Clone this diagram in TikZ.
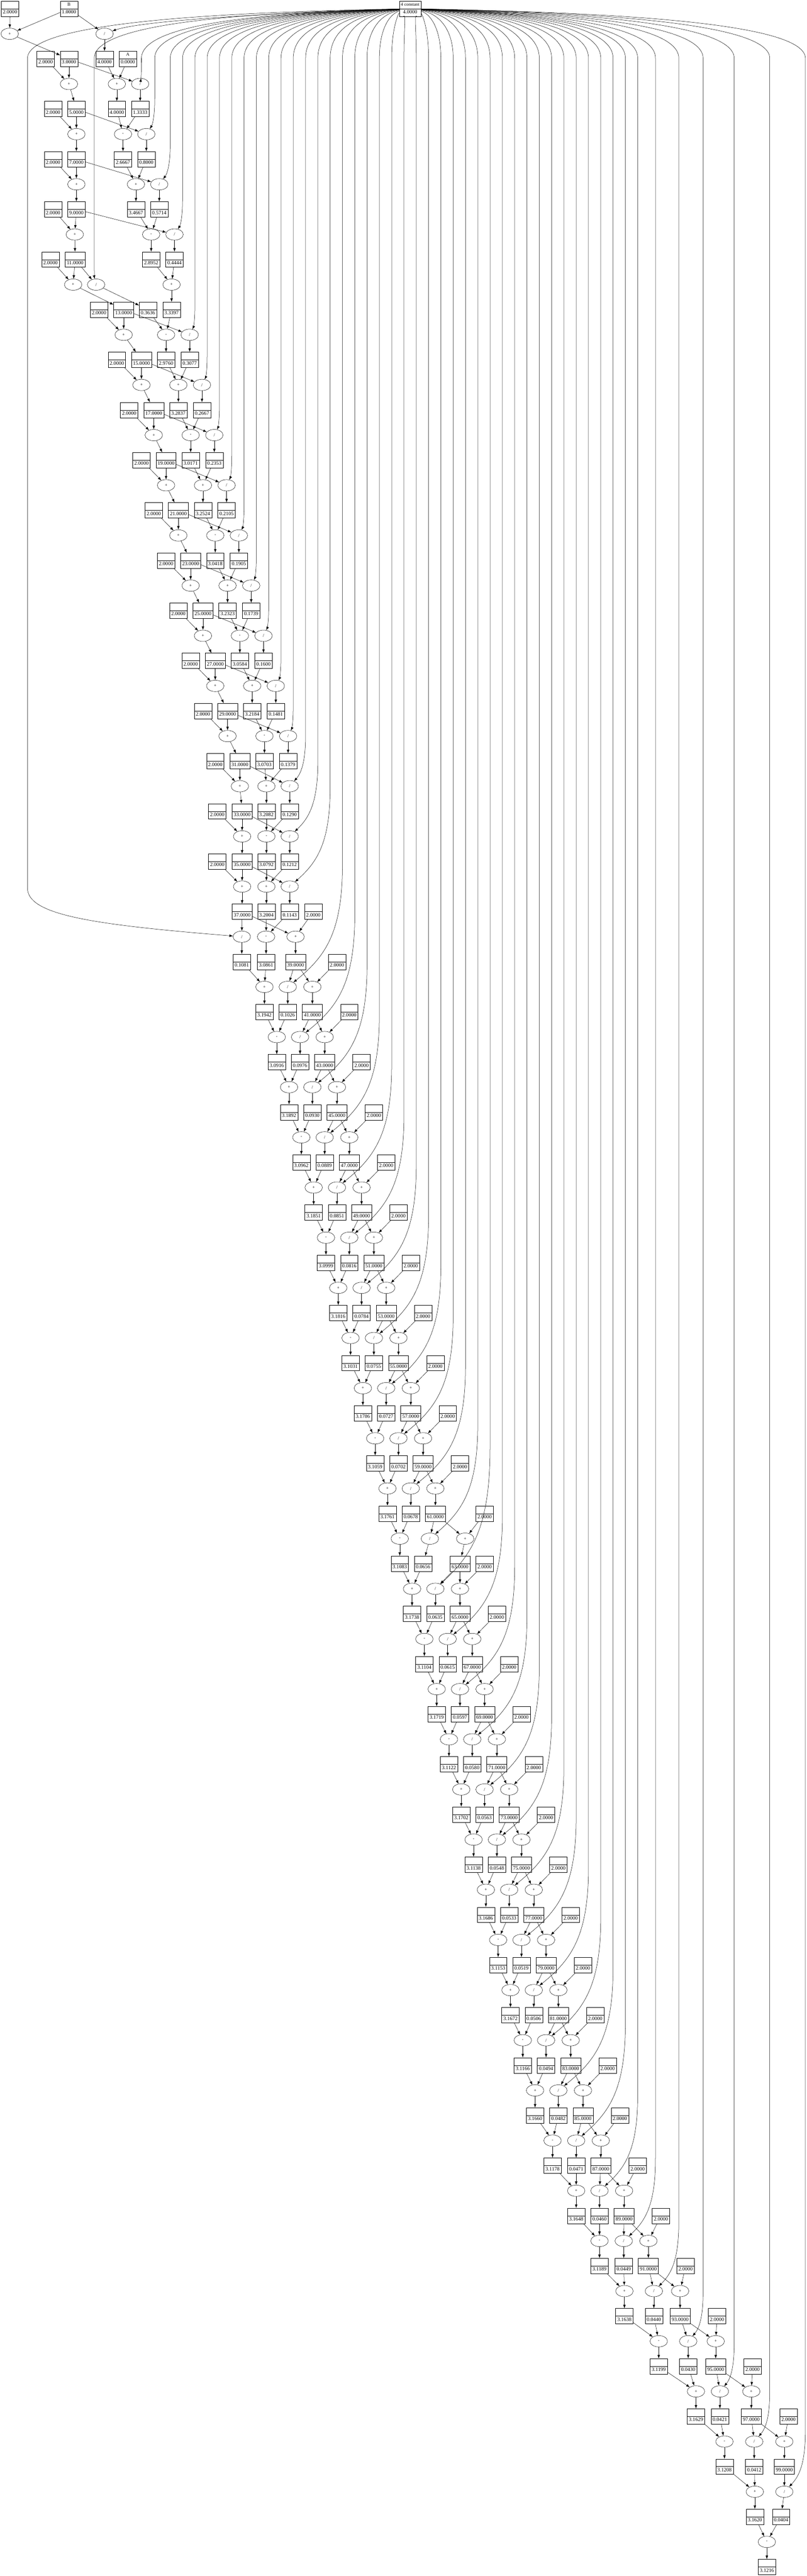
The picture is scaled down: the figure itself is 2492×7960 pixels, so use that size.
\documentclass[tikz,border=0pt]{standalone}
\usepackage{fontspec}
\setmainfont{Liberation Serif}
\usetikzlibrary{arrows.meta}
\usetikzlibrary{shapes.multipart}
\usetikzlibrary{shapes.geometric}
\tikzset{>={Latex[length=11pt,width=8pt]}}

% a value printed with four decimals
\newcommand{\fourdp}[1]{%
  \edef\fdN{\fpeval{round((#1)*10000)}}%
  \edef\fdI{\fpeval{trunc(\fdN/10000)}}%
  \edef\fdF{\fpeval{\fdN-10000*\fdI}}%
  \fdI.\ifnum\fdF<1000 0\fi\ifnum\fdF<100 0\fi\ifnum\fdF<10 0\fi\fdF}
\newcommand{\val}[1]{{\fontsize{16}{17}\selectfont #1}}

\tikzset{
  rec/.style={draw, rectangle split, rectangle split parts=2, inner xsep=5pt, inner ysep=3pt},
  op/.style={draw, ellipse, minimum width=54pt, minimum height=35pt, inner sep=0pt}
}

\begin{document}
\begin{tikzpicture}[x=1pt, y=-1pt, line width=0.8pt, font=\fontsize{14}{17}\selectfont]
        \useasboundingbox (0,0) rectangle (2492,7960);

        \node [rec] (Four) at (1267,27) {\strut 4 constant\nodepart{two}\strut\val{4.0000}};
        \node [rec] (Den1) at (213,27) {\strut B\nodepart{two}\strut\val{1.0000}};
        \node [rec] (Sum0) at (395,182) {\strut A\nodepart{two}\strut\val{0.0000}};
        \xdef\runsum{0}

        % term / den / quot / sum / two / plus op / div op / line / bend
        \foreach \k/\xd/\xq/\xs/\xt/\xp/\xv/\xl/\hb in {
            1/213/323/361/0/0/323/0/0,
            2/213/433/380/31/30/433/437/68,
            3/236/452/420/141/213/452/478/112,
            4/236/492/467/164/236/492/526/128,
            5/236/539/530/164/236/539/564/110,
            6/232/457/513/164/231/297/291/72,
            7/382/586/551/156/226/586/602/92,
            8/437/624/589/306/382/624/640/92,
            9/475/662/627/361/437/662/678/92,
            10/513/700/665/399/475/700/716/92,
            11/551/738/703/437/513/738/754/92,
            12/589/776/741/475/551/776/792/92,
            13/627/814/779/513/589/814/830/92,
            14/665/852/817/551/627/852/868/92,
            15/703/890/823/589/665/890/906/92,
            16/741/895/823/627/703/895/944/158,
            17/748/895/823/665/741/895/982/234,
            18/748/895/822/671/748/895/1020/310,
            19/748/747/817/671/748/747/85/150,
            20/913/889/855/968/913/889/1058/380,
            21/965/927/893/1041/965/927/1096/380,
            22/1003/965/931/1079/1003/965/1134/380,
            23/1041/1003/969/1117/1041/1003/1172/380,
            24/1079/1041/1007/1155/1079/1041/1210/380,
            25/1117/1079/1045/1193/1117/1079/1248/380,
            26/1155/1117/1083/1231/1155/1117/1286/380,
            27/1193/1155/1121/1269/1193/1155/1324/380,
            28/1231/1193/1159/1307/1231/1193/1362/380,
            29/1269/1231/1197/1345/1269/1231/1400/380,
            30/1307/1269/1235/1383/1307/1269/1438/380,
            31/1345/1307/1273/1421/1345/1328/1476/356,
            32/1421/1345/1311/1497/1437/1345/1514/440,
            33/1421/1383/1349/1497/1421/1383/1552/380,
            34/1459/1421/1387/1535/1459/1421/1590/380,
            35/1497/1459/1425/1573/1497/1459/1628/380,
            36/1535/1497/1463/1611/1535/1497/1666/380,
            37/1573/1535/1501/1649/1573/1535/1704/380,
            38/1611/1573/1539/1687/1611/1573/1742/380,
            39/1649/1611/1577/1725/1649/1611/1780/380,
            40/1687/1649/1615/1763/1687/1649/1818/380,
            41/1725/1687/1653/1801/1725/1687/1856/380,
            42/1763/1725/1707/1839/1763/1725/1894/380,
            43/1801/1780/1780/1877/1801/1780/1932/364,
            44/1856/1852/1852/1915/1856/1852/1970/296,
            45/1928/1927/1929/1970/1928/1927/2025/256,
            46/2003/2020/2035/2042/2003/2020/2097/214,
            47/2101/2126/2150/2118/2101/2126/2172/152,
            48/2211/2224/2238/2215/2211/2224/2268/148,
            49/2321/2330/2332/2325/2321/2330/2378/156,
            50/2423/2413/2369/2436/2423/2423/2488/190}{
            \pgfmathtruncatemacro{\prev}{\k-1}

            % odd numbers: 2 + previous
            \ifnum\k>1
                \node [rec] (Two\k) at (\xt,{155*\k-283}) {\strut\nodepart{two}\strut\val{2.0000}};
                \node [op] (PlusOp\k) at (\xp,{155*\k-205.5}) {+};
                \node [rec] (Den\k) at (\xd,{155*\k-128}) {\strut\nodepart{two}\strut\val{\the\numexpr2*\k-1\relax.0000}};
                \draw [->] (Two\k)--(PlusOp\k);
                \draw [->] (Den\prev)--(PlusOp\k);
                \draw [->] (PlusOp\k)--(Den\k);
            \fi

            % 4 / odd number
            \node [op] (DivOp\k) at (\xv,{155*\k-50.5}) {/};
            \node [rec] (Quot\k) at (\xq,{155*\k+27}) {\strut\nodepart{two}\strut\val{\fourdp{4/(2*\k-1)}}};
            \draw [->] (Den\k)--(DivOp\k);
            \draw [->] (DivOp\k)--(Quot\k);

            \ifnum\k=1
                \draw [->] (Four) .. controls (700,45) and (420,70) .. (DivOp1);
            \else
                \pgfmathsetmacro{\cxa}{1267+0.6*(\xl-1267)}
                \pgfmathsetmacro{\cxb}{\xv+0.7*(\xl-\xv)}
                \pgfmathsetmacro{\yv}{155*\k-50.5}
                \draw [->] (Four) .. controls (\cxa,40) and (\xl,80) .. (\xl,180)
                    -- (\xl,{\yv-\hb}) .. controls (\xl,{\yv-0.45*\hb}) and (\cxb,{\yv-0.25*\hb}) .. (DivOp\k);
            \fi

            % running sum, signs alternate
            \ifodd\k\relax
                \xdef\runsum{\fpeval{\runsum+4/(2*\k-1)}}
            \else
                \xdef\runsum{\fpeval{\runsum-4/(2*\k-1)}}
            \fi
            \node [op] (SumOp\k) at (\xs,{155*\k+104.5}) {\ifodd\k\relax +\else -\fi};
            \node [rec] (Sum\k) at (\xs,{155*\k+182}) {\strut\nodepart{two}\strut\val{\fourdp{\runsum}}};
            \draw [->] (Sum\prev)--(SumOp\k);
            \draw [->] (Quot\k)--(SumOp\k);
            \draw [->] (SumOp\k)--(Sum\k);
        }
\end{tikzpicture}
\end{document}
